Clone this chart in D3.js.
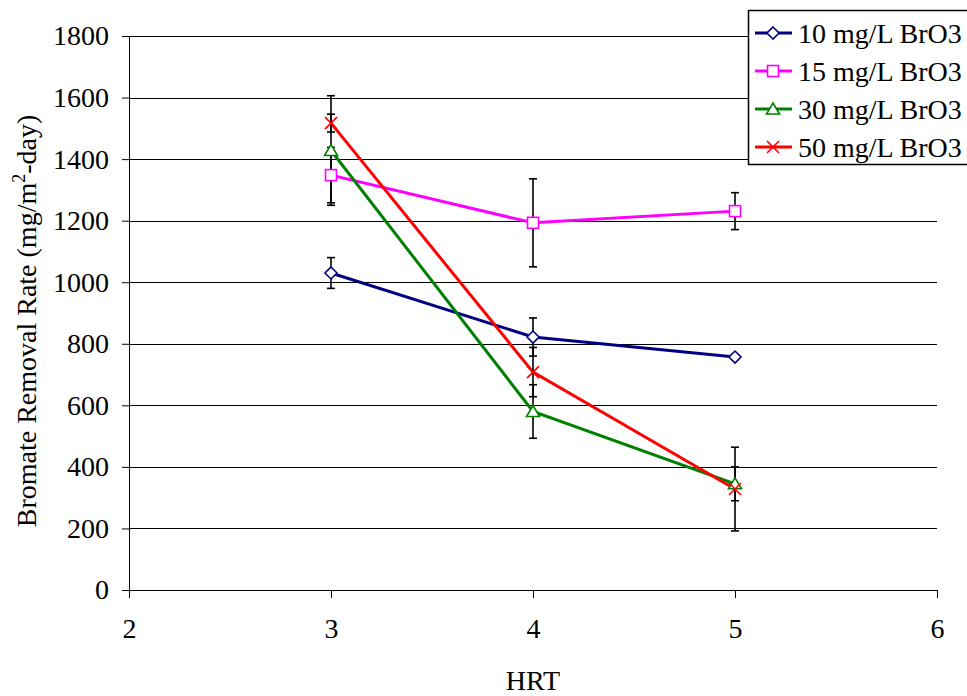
<!DOCTYPE html>
<html>
<head>
<meta charset="utf-8">
<script src="https://cdn.jsdelivr.net/npm/d3@7"></script>
<style>
  body { margin: 0; background: #fff; }
  text { font-family: "Liberation Serif", "Times New Roman", serif; fill: #000; }
</style>
</head>
<body>
<div id="chart"></div>
<script>
// hydraulic retention time on the x axis
var hrt = [3, 4, 5];
var seriesNames = ['10 mg/L BrO3', '15 mg/L BrO3', '30 mg/L BrO3', '50 mg/L BrO3'];

// removal rate (mg/m2-day) and the +/- error
var rate10 = [1030, 822, 757];
var err10 = [50, 62, 8];
var rate15 = [1348, 1193, 1231];
var err15 = [90, 143, 60];
var rate30 = [1428, 580, 345];
var err30 = [178, 87, 55];
var rate50 = [1517, 708, 328];
var err50 = [29, 80, 136];

var xTicks = [2, 3, 4, 5, 6];
var yTicks = [0, 200, 400, 600, 800, 1000, 1200, 1400, 1600, 1800];

var colors = ['#000080', '#ff00ff', '#008000', '#ff0000'];
var symbols = ['diamond', 'square', 'triangle', 'cross'];

var series = [rate10, rate15, rate30, rate50].map(function(vals, i) {
  var errs = [err10, err15, err30, err50][i];
  return {
    name: seriesNames[i],
    color: colors[i],
    symbol: symbols[i],
    points: vals.map(function(v, j) { return {x: hrt[j], y: v, e: errs[j]}; })
  };
});

var fullWidth = 967;
var fullHeight = 696;
var margin = {top: 36, right: 30, bottom: 106, left: 129};
var width = fullWidth - margin.left - margin.right;
var height = fullHeight - margin.top - margin.bottom;

var svg = d3.select('#chart').append('svg')
  .attr('width', fullWidth)
  .attr('height', fullHeight);

var g = svg.append('g')
  .attr('transform', 'translate(' + margin.left + ',' + margin.top + ')');

var xScale = d3.scaleLinear().domain([2, 6]).range([0, width]);
var yScale = d3.scaleLinear().domain([0, 1800]).range([height, 0]);

// horizontal gridlines
g.append('g').selectAll('line')
  .data(yTicks.filter(function(t) { return t > 0; }))
  .enter().append('line')
  .attr('x1', 0)
  .attr('x2', width)
  .attr('y1', function(d) { return Math.round(yScale(d)) + 0.5; })
  .attr('y2', function(d) { return Math.round(yScale(d)) + 0.5; })
  .attr('stroke', '#000')
  .attr('stroke-width', 1);

// axes
var xAxis = d3.axisBottom(xScale).tickValues(xTicks).tickSize(8).tickPadding(23).tickFormat(d3.format('d'));
var yAxis = d3.axisLeft(yScale).tickValues(yTicks).tickSize(7).tickPadding(13).tickFormat(d3.format('d'));

var xg = g.append('g')
  .attr('transform', 'translate(0,' + height + ')')
  .call(xAxis);
var yg = g.append('g').call(yAxis);

[xg, yg].forEach(function(ax) {
  ax.select('.domain').attr('stroke', '#000').attr('stroke-width', 1);
  ax.selectAll('.tick line').attr('stroke', '#000');
  ax.selectAll('.tick text').style('font-size', '28px').attr('fill', '#000');
});
xg.select('.domain').attr('d', 'M0,0.5H' + width);
xg.selectAll('.tick text').attr('dy', '0.62em');

// lines
var line = d3.line()
  .x(function(d) { return xScale(d.x); })
  .y(function(d) { return yScale(d.y); });

g.append('g').selectAll('path')
  .data(series)
  .enter().append('path')
  .attr('d', function(s) { return line(s.points); })
  .attr('fill', 'none')
  .attr('stroke', function(s) { return s.color; })
  .attr('stroke-width', 3);

// error bars
var capW = 4;
var errG = g.append('g');
series.forEach(function(s) {
  s.points.forEach(function(p) {
    var cx = xScale(p.x);
    var top = yScale(p.y + p.e);
    var bot = yScale(p.y - p.e);
    errG.append('line')
      .attr('x1', cx).attr('x2', cx).attr('y1', top).attr('y2', bot)
      .attr('stroke', '#000').attr('stroke-width', 1.6);
    [top, bot].forEach(function(yy) {
      errG.append('line')
        .attr('x1', cx - capW).attr('x2', cx + capW).attr('y1', yy).attr('y2', yy)
        .attr('stroke', '#000').attr('stroke-width', 1.6);
    });
  });
});

// markers
function drawMarker(sel, symbol, color, cx, cy) {
  if (symbol === 'diamond') {
    sel.append('path')
      .attr('d', 'M' + cx + ',' + (cy - 6) + 'L' + (cx + 6) + ',' + cy + 'L' + cx + ',' + (cy + 6) + 'L' + (cx - 6) + ',' + cy + 'Z')
      .attr('fill', '#fff').attr('stroke', color).attr('stroke-width', 1.6);
  } else if (symbol === 'square') {
    sel.append('rect')
      .attr('x', cx - 5.5).attr('y', cy - 5.5).attr('width', 11).attr('height', 11)
      .attr('fill', '#fff').attr('stroke', color).attr('stroke-width', 1.6);
  } else if (symbol === 'triangle') {
    sel.append('path')
      .attr('d', 'M' + cx + ',' + (cy - 6) + 'L' + (cx + 6.5) + ',' + (cy + 5) + 'L' + (cx - 6.5) + ',' + (cy + 5) + 'Z')
      .attr('fill', '#fff').attr('stroke', color).attr('stroke-width', 1.6);
  } else {
    sel.append('path')
      .attr('d', 'M' + (cx - 6) + ',' + (cy - 6) + 'L' + (cx + 6) + ',' + (cy + 6) + 'M' + (cx + 6) + ',' + (cy - 6) + 'L' + (cx - 6) + ',' + (cy + 6))
      .attr('fill', 'none').attr('stroke', color).attr('stroke-width', 1.6);
  }
}

var markG = g.append('g');
series.forEach(function(s) {
  s.points.forEach(function(p) {
    drawMarker(markG, s.symbol, s.color, xScale(p.x), yScale(p.y));
  });
});

// axis titles
svg.append('text')
  .attr('x', margin.left + width / 2)
  .attr('y', 690)
  .attr('text-anchor', 'middle')
  .style('font-size', '28px')
  .text('HRT');

var yTitle = svg.append('text')
  .attr('transform', 'translate(36,' + (margin.top + height / 2 + 8) + ') rotate(-90)')
  .attr('text-anchor', 'middle')
  .style('font-size', '28px');
yTitle.append('tspan').text('Bromate Removal Rate (mg/m');
yTitle.append('tspan').attr('dy', -11).style('font-size', '18px').text('2');
yTitle.append('tspan').attr('dy', 11).text('-day)');

// legend
var legend = svg.append('g').attr('transform', 'translate(748,10)');
legend.append('rect')
  .attr('x', 0.5).attr('y', 0.5)
  .attr('width', 240).attr('height', 154)
  .attr('fill', '#fff').attr('stroke', '#000').attr('stroke-width', 1.5);

series.forEach(function(s, i) {
  var ly = 23 + i * 38;
  legend.append('line')
    .attr('x1', 7).attr('x2', 44).attr('y1', ly).attr('y2', ly)
    .attr('stroke', s.color).attr('stroke-width', 3);
  drawMarker(legend, s.symbol, s.color, 25, ly);
  legend.append('text')
    .attr('x', 50).attr('y', ly)
    .attr('dy', '0.35em')
    .style('font-size', '28px')
    .text(s.name);
});
</script>
</body>
</html>
